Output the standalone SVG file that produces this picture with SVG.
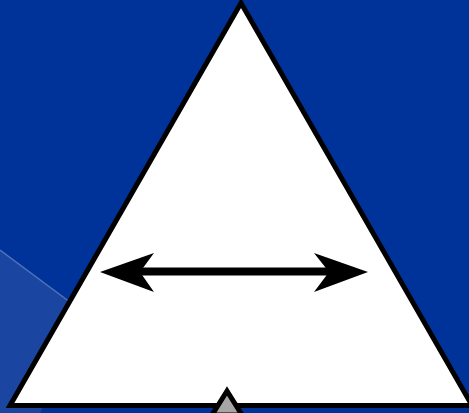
<svg xmlns="http://www.w3.org/2000/svg" width="469" height="413" viewBox="0 0 469 413">
<defs>
<style>
.edge{fill:#fff;stroke:#000;stroke-width:5;stroke-linejoin:miter}
.arrowhead{fill:#000;stroke:none}
</style>
</defs>
<g id="background">
<rect x="0" y="0" width="469" height="413" fill="#003399"/>
<polygon points="0,250 90,317 40,413 0,413" fill="#1a45a0"/>
<line x1="0" y1="250" x2="90" y2="317" stroke="#4f72bb" stroke-width="1.5"/>
</g>
<g id="triangle">
<polygon class="edge" points="241,3 10,405.5 472,405.5"/>
</g>
<g id="pointer">
<polygon points="227,391 212,415 242,415" fill="#a6a6a6" stroke="#000" stroke-width="5" stroke-linejoin="miter"/>
</g>
<g id="connectors">
<line x1="135" y1="271.5" x2="335" y2="271.5" stroke="#000" stroke-width="8"/>
<polygon class="arrowhead" points="100,272 154,253 140,272 154,292"/>
<polygon class="arrowhead" points="368,272 314,253 329,272 314,292"/>
</g>
</svg>
